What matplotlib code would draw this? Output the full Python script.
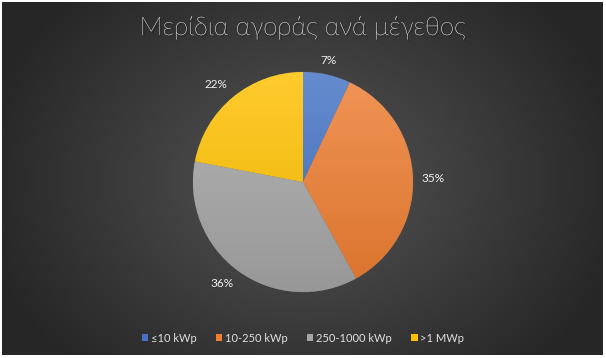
import numpy as np
import matplotlib
matplotlib.use("Agg")
import matplotlib.pyplot as plt
import matplotlib.patheffects as pe
from matplotlib.colors import to_rgb
from matplotlib.patches import Patch

title = "Μερίδια αγοράς ανά μέγεθος"
categories = ["≤10 kWp", "10-250 kWp", "250-1000 kWp", ">1 MWp"]
shares = [7, 35, 36, 22]
colors = ["#4472C4", "#ED7D31", "#A5A5A5", "#FFC000"]

W, H = 606, 358
fig = plt.figure(figsize=(W / 100, H / 100), dpi=100, facecolor="white")

# background panel with radial gradient
bg = fig.add_axes([2 / W, 3 / H, 601 / W, 353 / H])
bg.set_axis_off()
yy, xx = np.mgrid[0:353, 0:601]
cx, cy = 301, 178
r = np.sqrt(((xx - cx) / 330.0) ** 2 + ((yy - cy) / 260.0) ** 2)
r = np.clip(r, 0, 1)
c0 = np.array(to_rgb("#555555"))
c1 = np.array(to_rgb("#262626"))
img = c0[None, None, :] * (1 - r[..., None]) + c1[None, None, :] * r[..., None]
bg.imshow(img, aspect="auto", extent=[0, 1, 0, 1], origin="upper")
bg.set_xlim(0, 1)
bg.set_ylim(0, 1)

# pie axes
R = 110
pcx, pcy = 303, 182
ax = fig.add_axes([(pcx - R) / W, (H - pcy - R) / H, 2 * R / W, 2 * R / H])
ax.set_axis_off()
ax.set_aspect("equal")

font = "Lato"
wedges, texts, autotexts = ax.pie(
    shares, colors=colors, startangle=90, counterclock=False,
    autopct=lambda p: f"{p:.0f}%", pctdistance=1.08, radius=1,
    wedgeprops=dict(linewidth=0.4, edgecolor="#5a5a5a"),
    textprops=dict(color="#f0f0f0", fontsize=8.5, family=font),
)
# outside-end label placement (Excel-like)
for w, t in zip(wedges, autotexts):
    th = np.deg2rad((w.theta1 + w.theta2) / 2)
    c, s = np.cos(th), np.sin(th)
    t.set_ha("left" if c > 0.3 else ("right" if c < -0.3 else "center"))
    t.set_va("bottom" if s > 0.3 else ("top" if s < -0.3 else "center"))
    t.set_clip_on(False)

# vertical gradient fill per wedge
grad = np.linspace(0, 1, 256)[:, None]
for w, c in zip(wedges, colors):
    base = np.array(to_rgb(c))
    top = base + (1 - base) * 0.18
    bot = base * 0.92
    g = top[None, None, :] * (1 - grad[..., None]) + bot[None, None, :] * grad[..., None]
    g = np.repeat(g, 2, axis=1)
    im = ax.imshow(g, extent=[-1, 1, -1, 1], origin="upper", aspect="auto", zorder=w.get_zorder() + 0.1)
    im.set_clip_path(w)
ax.set_xlim(-1, 1)
ax.set_ylim(-1, 1)

fig.text(pcx / W, 1 - 28 / H, title, ha="center", va="center", color="#f5f5f5",
         fontsize=18.5, family=font, weight="light",
         path_effects=[pe.withSimplePatchShadow(offset=(1, -1), shadow_rgbFace="black", alpha=0.6), pe.Normal()])

handles = [Patch(facecolor=c, edgecolor="none") for c in colors]
leg = fig.legend(handles, categories, loc="center", bbox_to_anchor=(pcx / W, 1 - 338 / H),
                 ncol=4, frameon=False, handlelength=0.6, handleheight=0.6,
                 handletextpad=0.25, columnspacing=1.7,
                 prop=dict(family=font, size=8))
for t in leg.get_texts():
    t.set_color("#e0e0e0")

fig.savefig("out.png", dpi=100, facecolor="white")
